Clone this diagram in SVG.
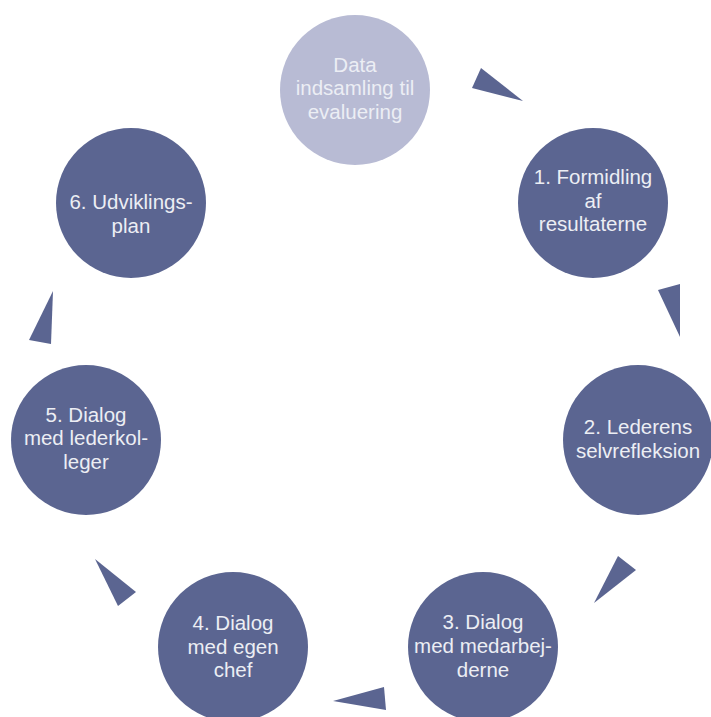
<svg xmlns="http://www.w3.org/2000/svg" width="711" height="717" viewBox="0 0 711 717">
  <style>
    .step { fill: #5b6591; }
    .start { fill: #b8bbd4; }
    .arrow { fill: #5b6591; }
    .label { font-family: "Liberation Sans", Arial, sans-serif; font-size: 20.5px; fill: #eceef4; text-anchor: middle; }
  </style>
  <rect width="711" height="717" fill="#ffffff"/>

  <!-- cycle direction markers -->
  <g id="connectors">
    <polygon class="arrow" points="472,88 481,68 523,101"/>
    <polygon class="arrow" points="658,290 680,284 680,337"/>
    <polygon class="arrow" points="618,556 636,570 594,603"/>
    <polygon class="arrow" points="333,701 384,687 386,710"/>
    <polygon class="arrow" points="95,559 136,592 118,606"/>
    <polygon class="arrow" points="53,291 29,340 51,344"/>
  </g>

  <g id="data">
    <circle class="start" cx="355" cy="90" r="75"/>
    <text class="label" x="355" y="72">Data</text>
    <text class="label" x="355" y="95">indsamling til</text>
    <text class="label" x="355" y="118.5">evaluering</text>
  </g>

  <g id="step1">
    <circle class="step" cx="593" cy="203" r="75"/>
    <text class="label" x="593" y="184">1. Formidling</text>
    <text class="label" x="593" y="207.5">af</text>
    <text class="label" x="593" y="231">resultaterne</text>
  </g>

  <g id="step2">
    <circle class="step" cx="638" cy="440" r="75"/>
    <text class="label" x="638" y="434">2. Lederens</text>
    <text class="label" x="638" y="458">selvrefleksion</text>
  </g>

  <g id="step3">
    <circle class="step" cx="483" cy="647" r="75"/>
    <text class="label" x="483" y="629">3. Dialog</text>
    <text class="label" x="483" y="653">med medarbej-</text>
    <text class="label" x="483" y="677">derne</text>
  </g>

  <g id="step4">
    <circle class="step" cx="233" cy="647" r="75"/>
    <text class="label" x="233" y="630">4. Dialog</text>
    <text class="label" x="233" y="653.5">med egen</text>
    <text class="label" x="233" y="677">chef</text>
  </g>

  <g id="step5">
    <circle class="step" cx="86" cy="440" r="75"/>
    <text class="label" x="86" y="421.5">5. Dialog</text>
    <text class="label" x="86" y="445">med lederkol-</text>
    <text class="label" x="86" y="468.5">leger</text>
  </g>

  <g id="step6">
    <circle class="step" cx="131" cy="203" r="75"/>
    <text class="label" x="131" y="209">6. Udviklings-</text>
    <text class="label" x="131" y="232.5">plan</text>
  </g>
</svg>
